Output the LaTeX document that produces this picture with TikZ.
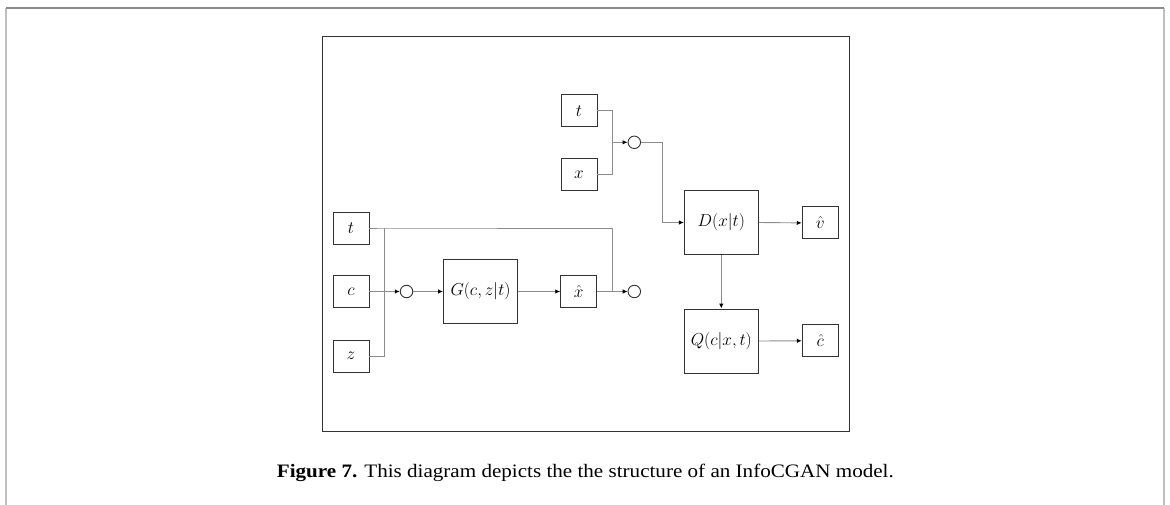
\documentclass[tikz,border=0pt]{standalone}
\usepackage{fontspec}
\setmainfont{Liberation Serif}
\usetikzlibrary{arrows.meta}
\tikzset{
  blk/.style={draw=black!80, line width=0.9pt, fill=white, inner sep=0pt, font=\fontsize{18}{21}\selectfont},
  sbox/.style={blk, minimum width=36pt, minimum height=32pt},
  bbox/.style={blk, minimum width=74pt, minimum height=64pt},
  junc/.style={circle, draw=black!80, line width=0.9pt, minimum size=12.5pt, inner sep=0pt},
  wire/.style={draw=black!45, line width=0.9pt},
  arr/.style={wire, -{Latex[length=5pt,width=4.5pt,fill=black,color=black]}},
}
\begin{document}
\begin{tikzpicture}[x=1pt,y=-1pt]
\useasboundingbox (0,0) rectangle (1170,505);
% page frame
\draw[black!25, line width=2pt] (6,505) -- (6,8);
\draw[black!25, line width=2pt] (1164,505) -- (1164,8);
\draw[black!45, line width=1.2pt] (6,8) -- (1164,8);
% inner frame
\draw[black!80, line width=0.9pt] (322,36) rectangle (849,431);
% left part
\node[sbox] (t1) at (351,228) {$t$};
\node[sbox] (c) at (351,291.5) {$c$};
\node[sbox] (z) at (351,356) {$z$};
\node[junc] (o1) at (406.5,291.5) {};
\node[bbox] (G) at (480.5,291.5) {$G(c,z|t)$};
\node[sbox] (xh) at (578.7,291.5) {$\hat{x}$};
\node[junc] (o2) at (634.3,291.5) {};
\coordinate (jA) at (384.3,228);
\coordinate (jB) at (384.3,356);
\coordinate (jC) at (612.3,228);
\coordinate (jD) at (612.3,291.5);
\draw[wire] (t1.east) -- (jA) -- (jC) -- (jD);
\draw[wire] (z.east) -- (jB) -- (jA);
\draw[arr] (c.east) -- (o1.west);
\draw[arr] (o1.east) -- (G.west);
\draw[arr] (G.east) -- (xh.west);
\draw[arr] (xh.east) -- (o2.west);
% right part
\node[sbox] (t2) at (579,110.7) {$t$};
\node[sbox] (x) at (579,174.5) {$x$};
\node[junc] (o3) at (634.3,142.3) {};
\node[bbox] (D) at (721.3,222.5) {$D(x|t)$};
\node[sbox] (vh) at (820.2,222.9) {$\hat{v}$};
\node[bbox] (Q) at (721.3,341) {$Q(c|x,t)$};
\node[sbox] (ch) at (820.2,340.8) {$\hat{c}$};
\coordinate (jE) at (612.3,110.7);
\coordinate (jF) at (612.3,174.5);
\coordinate (jG) at (612.3,142.3);
\coordinate (jH) at (662.3,142.3);
\draw[wire] (t2.east) -- (jE) -- (jF) -- (x.east);
\draw[arr] (jG) -- (o3.west);
\draw[arr] (o3.east) -- (jH) |- (D.west);
\draw[arr] (D.east) -- (vh.west);
\draw[arr] (D.south) -- (Q.north);
\draw[arr] (Q.east) -- (ch.west);
% caption
\node[anchor=base west, inner sep=0pt, font=\fontsize{19}{22}\selectfont] (cap) at (276.7,477)
  {\scalebox{1.11}[1]{\textbf{Figure 7.} This diagram depicts the the structure of an InfoCGAN model.}};
\end{tikzpicture}
\end{document}
